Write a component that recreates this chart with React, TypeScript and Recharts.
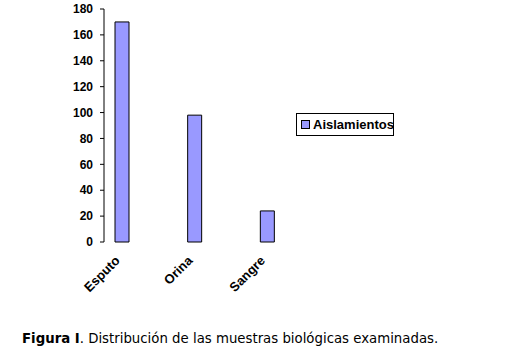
import { BarChart, Bar, XAxis, YAxis, Legend } from 'recharts';

const categories = ['Esputo', 'Orina', 'Sangre'];
const aislamientos = [170, 98, 24];
const yTicks = [0, 20, 40, 60, 80, 100, 120, 140, 160, 180];

const data = categories.map((name, i) => ({ name, Aislamientos: aislamientos[i] }));

const axisFont = 'Arial, "Liberation Sans", sans-serif';

const RotatedTick = ({ x, y, payload }: any) => (
  <g transform={`translate(${x - 13},${y + 3})`}>
    <text
      x={0}
      y={0}
      dx={2}
      dy={14}
      textAnchor="end"
      transform="rotate(-45)"
      fontFamily={axisFont}
      fontWeight="bold"
      fontSize={13}
      fill="#000"
    >
      {payload.value}
    </text>
  </g>
);

const LegendBox = () => (
  <div
    style={{
      border: '1px solid #000',
      background: '#fff',
      width: 98,
      height: 23,
      boxSizing: 'border-box',
      display: 'flex',
      alignItems: 'center',
      paddingLeft: 4,
      fontFamily: axisFont,
      fontWeight: 'bold',
      fontSize: 13,
      color: '#000',
    }}
  >
    <span
      style={{
        display: 'inline-block',
        flexShrink: 0,
        width: 7,
        height: 7,
        background: '#9999ff',
        border: '1px solid #000',
        marginRight: 3,
      }}
    />
    Aislamientos
  </div>
);

export default function App() {
  return (
    <div style={{ position: 'absolute', left: 0, top: 0, width: 520, height: 355, background: '#fff' }}>
      <BarChart
        width={520}
        height={300}
        data={data}
        margin={{ top: 9, right: 136, bottom: 8, left: 0 }}
      >
        <XAxis
          dataKey="name"
          axisLine={false}
          tickLine={false}
          height={50}
          interval={0}
          padding={{ left: -18, right: -18 }}
          tick={<RotatedTick />}
        />
        <YAxis
          width={104}
          domain={[0, 180]}
          ticks={yTicks}
          interval={0}
          axisLine={{ stroke: '#000' }}
          tickLine={{ stroke: '#000' }}
          tickSize={4}
          tickMargin={7}
          tick={{ fontFamily: axisFont, fontWeight: 'bold', fontSize: 12, fill: '#000' }}
        />
        <Legend
          layout="vertical"
          align="right"
          verticalAlign="middle"
          content={<LegendBox />}
          wrapperStyle={{ position: 'absolute', left: 296, top: 113, width: 98, height: 23 }}
        />
        <Bar
          dataKey="Aislamientos"
          fill="#9999ff"
          stroke="#000"
          strokeWidth={1}
          barSize={14}
          isAnimationActive={false}
        />
      </BarChart>
      <div
        style={{
          position: 'absolute',
          left: 22,
          top: 331,
          fontFamily: 'Verdana, "DejaVu Sans", sans-serif',
          fontSize: 13.3,
          color: '#000',
          whiteSpace: 'nowrap',
        }}
      >
        <b>Figura I</b>. Distribución de las muestras biológicas examinadas.
      </div>
    </div>
  );
}
